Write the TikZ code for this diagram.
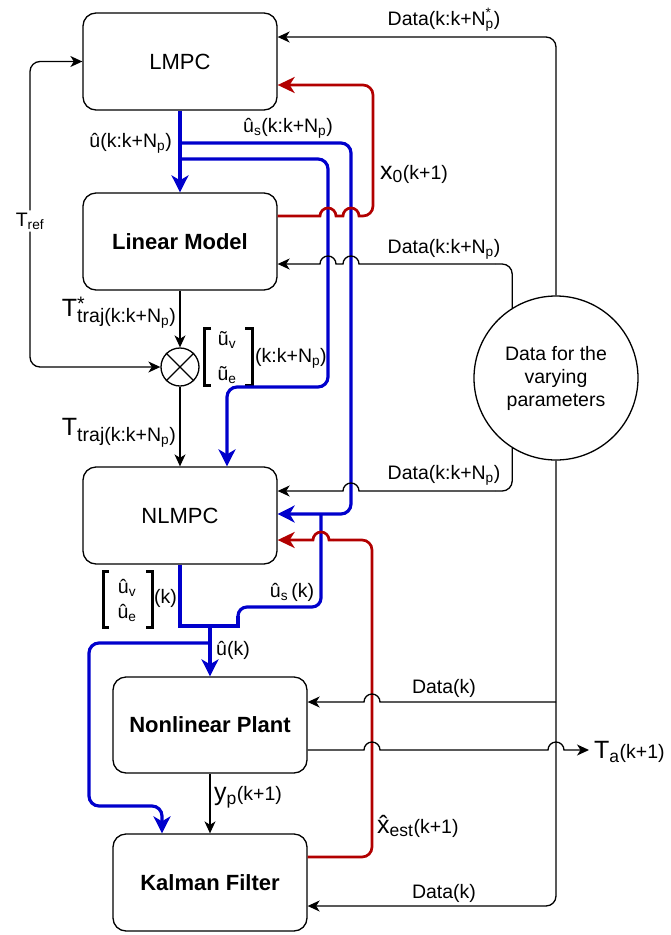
\documentclass[tikz,border=0pt]{standalone}
\usepackage{fontspec}
\setmainfont{Liberation Sans}
\usetikzlibrary{arrows.meta}

\definecolor{flowblue}{HTML}{0000CC}
\definecolor{flowred}{HTML}{B20000}

\newcommand\lblfont{\fontsize{19.5}{23}\selectfont}
\newcommand\boxfont{\fontsize{22}{26}\selectfont}
\newcommand\bigvar[1]{{\fontsize{25}{27}\selectfont #1}}
\newcommand\supsub[2]{\rlap{\textsuperscript{#1}}\textsubscript{#2}}

\tikzset{
  blk/.tip={Stealth[length=12pt,width=11pt,inset=3.5pt]},
  blu/.tip={Stealth[length=17pt,width=17pt,inset=5pt]},
  rdd/.tip={Stealth[length=17pt,width=16pt,inset=5pt]},
}

\begin{document}
\begin{tikzpicture}[x=1pt,y=-1pt,
  block/.style={draw, line width=1.3pt, rounded corners=13pt, minimum width=194pt,
    minimum height=97pt, inner sep=0pt, font=\boxfont},
  heavy/.style={font=\boxfont\bfseries},
  conn/.style={line width=1.3pt, draw=black},
  flowb/.style={line width=3.2pt, draw=flowblue},
  flowr/.style={line width=2.7pt, draw=flowred},
  lbl/.style={inner sep=0pt, font=\lblfont},
  brk/.style={line width=3pt},
]
\useasboundingbox (0,0) rectangle (671,935);

% blocks
\node[block] (lmpc) at (180,61.5) {LMPC};
\node[block,heavy] (linm) at (180,241.5) {Linear Model};
\node[block] (nlmpc) at (180,515.5) {NLMPC};
\node[block,heavy,minimum height=96pt] (plant) at (210,725) {Nonlinear Plant};
\node[block,heavy] (kf) at (210,882.5) {Kalman Filter};
\node[draw,circle,line width=1.3pt,minimum size=38pt,inner sep=0pt] (sum) at (180,367) {};
\draw[line width=1.3pt] (sum.45) -- (sum.225) (sum.135) -- (sum.315);
\node[draw,circle,line width=1.3pt,minimum size=164pt,inner sep=0pt,align=center,font=\lblfont]
  (data) at (556,378) {Data for the\\varying\\parameters};

% labels
\node[lbl] (dtop) at (444,20) {Data(k:k+N\supsub{*}{p})};
\node[lbl] (dlin) at (444,249) {Data(k:k+N\textsubscript{p})};
\node[lbl] (dnl) at (444,475) {Data(k:k+N\textsubscript{p})};
\node[lbl] (dpl) at (444,688) {Data(k)};
\node[lbl] (dkf) at (444,893) {Data(k)};
\node[lbl,anchor=east] (uhor) at (172,143) {û(k:k+N\textsubscript{p})};
\node[lbl] (ushor) at (288,128) {û\textsubscript{s}(k:k+N\textsubscript{p})};
\node[lbl,anchor=west] (xzero) at (380,174) {\bigvar{x\textsubscript{0}}(k+1)};
\node[lbl,fill=white,inner sep=2pt] (tref) at (30,221) {T\textsubscript{ref}};
\node[lbl,anchor=east] (tstar) at (176,313)
  {\bigvar{T}\rlap{\raisebox{6pt}{*}}\raisebox{-6pt}{traj(k:k+N\textsubscript{p})}};
\node[lbl,anchor=east] (ttraj) at (176,433)
  {\bigvar{T}\raisebox{-6pt}{traj(k:k+N\textsubscript{p})}};
\node[lbl] (utv) at (227,340) {ũ\textsubscript{v}};
\node[lbl] (ute) at (227,375) {ũ\textsubscript{e}};
\node[lbl,anchor=west] (utk) at (255,358) {(k:k+N\textsubscript{p})};
\node[lbl] (uhv) at (127,588) {û\textsubscript{v}};
\node[lbl] (uhe) at (127,613) {û\textsubscript{e}};
\node[lbl,anchor=west] (uhk) at (154,598) {(k)};
\node[lbl] (usk) at (292,592) {û\textsubscript{s}\,(k)};
\node[lbl,anchor=west] (uk) at (216,650) {û(k)};
\node[lbl,anchor=west] (yp) at (214,797) {\bigvar{y\textsubscript{p}}(k+1)};
\node[lbl,anchor=west] (xest) at (377,826) {\bigvar{\^{x}\textsubscript{est}}(k+1)};
\node[lbl,anchor=west,inner xsep=5pt] (ta) at (589,752) {\bigvar{T\textsubscript{a}}(k+1)};

% matrix brackets
\draw[brk] (211,328) -- (204,328) -- (204,385) -- (211,385);
\draw[brk] (245,328) -- (252,328) -- (252,385) -- (245,385);
\draw[brk] (109,571) -- (103,571) -- (103,627) -- (109,627);
\draw[brk] (146,571) -- (152,571) -- (152,627) -- (146,627);

% blue control signals
\draw[flowb,-blu] (lmpc.south) -- (linm.north);
\draw[flowb,-blu,rounded corners=10pt] (lmpc.south |- 0,143) -- (351,143) -- (351,514)
  -- (nlmpc.east |- 0,514);
\draw[flowb,-blu,rounded corners=10pt] (lmpc.south |- 0,159) -- (328,159) -- (328,387)
  -- (227,387) -- (nlmpc.north -| 227,0);
\draw[flowb] (nlmpc.south) -- (180,626) -- (238,626) -- (238,616);
\draw[flowb,rounded corners=9pt] (238,616) -- (238,607) -- (321,607) -- (321,514);
\draw[flowb,-blu] (plant.north |- 0,626) -- (plant.north);
\draw[flowb,-blu,rounded corners=10pt] (plant.north |- 0,643) -- (89,643) -- (89,806)
  -- (162,806) -- (kf.north -| 162,0);

% red state feedback
\draw[flowr] (linm.east |- 0,216) -- (320,216) arc[start angle=180,end angle=360,radius=8]
  -- (343,216) arc[start angle=180,end angle=360,radius=8] -- (363,216);
\draw[flowr,-rdd,rounded corners=10pt] (363,216) -- (373,216) -- (373,85) -- (lmpc.east |- 0,85);
\draw[flowr,rounded corners=10pt] (kf.east |- 0,857) -- (372,857) -- (372,540) -- (333,540);
\draw[flowr,-rdd] (333,540) -- (329,540) arc[start angle=0,end angle=-180,radius=8]
  -- (nlmpc.east |- 0,540);

% data feeds
\draw[conn,-blk,rounded corners=10pt] (data.north) |- (lmpc.east |- 0,37);
\draw[conn,rounded corners=10pt] (data.122) |- (495,264);
\draw[conn,-blk] (495,264) -- (359,264) arc[start angle=0,end angle=-180,radius=8]
  -- (336,264) arc[start angle=0,end angle=-180,radius=8] -- (linm.east |- 0,264);
\draw[conn,rounded corners=10pt] (data.238) |- (495,491);
\draw[conn,-blk] (495,491) -- (359,491) arc[start angle=0,end angle=-180,radius=8]
  -- (nlmpc.east |- 0,491);
\draw[conn,-blk,rounded corners=10pt] (data.south) |- (kf.east |- 0,906);
\draw[conn,-blk] (data.south |- 0,702) -- (380,702) arc[start angle=0,end angle=-180,radius=8]
  -- (plant.east |- 0,702);
\draw[conn,-blk] (plant.east |- 0,750) -- (364,750) arc[start angle=180,end angle=360,radius=8]
  -- (548,750) arc[start angle=180,end angle=360,radius=8] -- (ta.west |- 0,750);

% reference and trajectory
\draw[conn,-blk,rounded corners=10pt] (tref.north) |- (lmpc.west);
\draw[conn,-blk,rounded corners=10pt] (tref.south) |- (sum.west);
\draw[conn,-blk] (linm.south) -- (sum.north);
\draw[conn,-blk] (sum.south) -- (nlmpc.north);
\draw[conn,-blk] (plant.south) -- (kf.north);
\end{tikzpicture}
\end{document}
